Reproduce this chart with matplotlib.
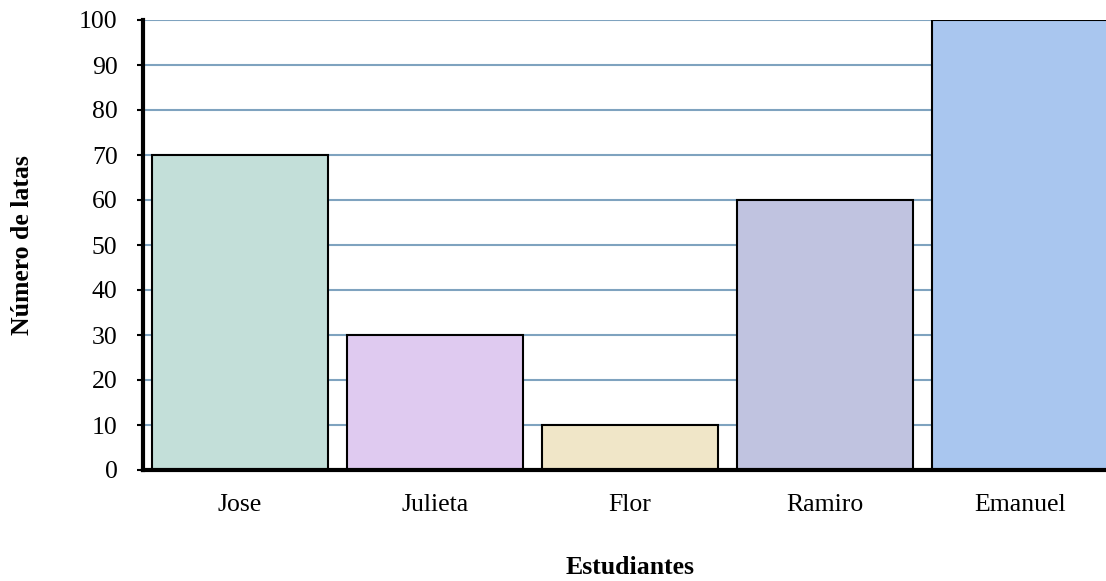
import matplotlib.pyplot as plt

# Latas recolectadas por estudiante
estudiantes = ['Jose', 'Julieta', 'Flor', 'Ramiro', 'Emanuel']
latas = [70, 30, 10, 60, 100]
colores = ['#c3dfd9', '#dfcaf0', '#f0e6c8', '#c0c3e0', '#a9c6ef']

plt.rcParams['font.family'] = ['Liberation Serif', 'DejaVu Serif']

fig = plt.figure(figsize=(11.06, 5.81), dpi=100)
# the axes runs a bit past the right edge, as in the original
ax = fig.add_axes([142.5 / 1106, 1 - 470 / 581, 975 / 1106, 450 / 581])

x = range(len(estudiantes))
ax.bar(x, latas, width=0.9, color=colores, edgecolor='black', linewidth=1.5, zorder=3)

ax.set_xlim(-0.5, 4.5)
ax.set_ylim(0, 100)
ax.set_yticks(range(0, 101, 10))
ax.set_xticks(list(x))
ax.set_xticklabels(estudiantes)

ax.grid(axis='y', color='#7fa3bf', linewidth=1.5, zorder=0)
ax.set_axisbelow(True)

for side in ['top', 'right']:
    ax.spines[side].set_visible(False)
ax.spines['left'].set_linewidth(3)
ax.spines['bottom'].set_linewidth(3)
ax.spines['left'].set_zorder(4)
ax.spines['bottom'].set_zorder(4)

ax.tick_params(axis='y', direction='out', length=4, width=1.5, labelsize=18.5, pad=14)
ax.tick_params(axis='x', length=0, labelsize=18.5, pad=17)

ax.set_ylabel('Número de latas', fontsize=18.5, fontweight='bold')
ax.yaxis.set_label_coords(-108 / 975, 0.5)
ax.set_xlabel('Estudiantes', fontsize=18.5, fontweight='bold')
ax.xaxis.set_label_coords((630 - 142.5) / 975, -86 / 450)

fig.savefig('out.png', dpi=100)
